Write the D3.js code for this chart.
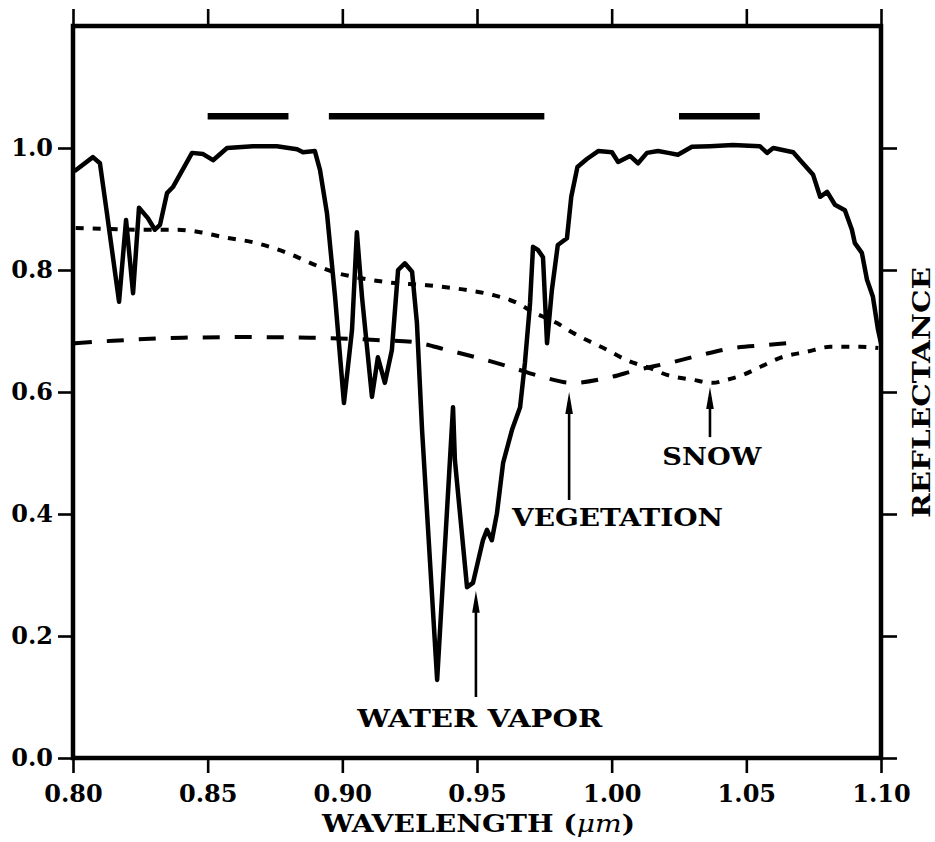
<!DOCTYPE html>
<html>
<head>
<meta charset="utf-8">
<script src="https://cdn.jsdelivr.net/npm/d3@7"></script>
<style>
  html, body { margin: 0; padding: 0; background: #fff; }
  svg { display: block; }
  text { font-family: "DejaVu Serif", "Liberation Serif", serif; font-weight: bold; fill: #000; }
</style>
</head>
<body>
<svg id="chart" width="935" height="842"></svg>
<script>
// Axis ticks
const wavelengthTicks = [0.80, 0.85, 0.90, 0.95, 1.00, 1.05, 1.10];
const reflectanceTicks = [0.0, 0.2, 0.4, 0.6, 0.8, 1.0];

// Atmospheric transmission with water vapor absorption: [wavelength (um), reflectance]
const waterVapor = [
  [0.8005, 0.962], [0.8074, 0.985], [0.8100, 0.975], [0.8126, 0.893], [0.8171, 0.748],
  [0.8197, 0.882], [0.8223, 0.762], [0.8245, 0.902], [0.8278, 0.885], [0.8304, 0.866],
  [0.8323, 0.874], [0.8349, 0.926], [0.8371, 0.936], [0.8442, 0.992], [0.8483, 0.990],
  [0.8520, 0.980], [0.8572, 1.000], [0.8668, 1.003], [0.8757, 1.003], [0.8832, 0.998],
  [0.8854, 0.993], [0.8898, 0.995], [0.8917, 0.964], [0.8943, 0.893], [0.8973, 0.756],
  [0.9006, 0.582], [0.9036, 0.702], [0.9054, 0.862], [0.9073, 0.756], [0.9110, 0.592],
  [0.9132, 0.657], [0.9158, 0.615], [0.9184, 0.669], [0.9207, 0.800], [0.9232, 0.811],
  [0.9259, 0.797], [0.9277, 0.713], [0.9296, 0.538], [0.9352, 0.128], [0.9411, 0.575],
  [0.9418, 0.488], [0.9463, 0.280], [0.9485, 0.287], [0.9522, 0.357], [0.9537, 0.374],
  [0.9555, 0.357], [0.9574, 0.401], [0.9597, 0.484], [0.9630, 0.538], [0.9660, 0.575],
  [0.9678, 0.648], [0.9697, 0.746], [0.9708, 0.838], [0.9726, 0.833], [0.9745, 0.821],
  [0.9760, 0.680], [0.9778, 0.767], [0.9800, 0.841], [0.9834, 0.852], [0.9850, 0.920],
  [0.9873, 0.969], [0.9908, 0.982], [0.9950, 0.995], [1.0001, 0.993], [1.0024, 0.977],
  [1.0068, 0.987], [1.0098, 0.975], [1.0131, 0.992], [1.0172, 0.995], [1.0210, 0.992],
  [1.0246, 0.989], [1.0298, 1.002], [1.0365, 1.003], [1.0450, 1.005], [1.0550, 1.003],
  [1.0577, 0.992], [1.0600, 1.000], [1.0674, 0.993], [1.0700, 0.980], [1.0748, 0.956],
  [1.0774, 0.920], [1.0800, 0.928], [1.0829, 0.907], [1.0866, 0.898], [1.0892, 0.866],
  [1.0903, 0.844], [1.0929, 0.828], [1.0948, 0.784], [1.0970, 0.756], [1.0989, 0.702],
  [1.1000, 0.680]
];

// Vegetation reflectance (long dashes)
const vegetation = [
  [0.8007, 0.680], [0.8149, 0.684], [0.8408, 0.689], [0.8646, 0.690], [0.8880, 0.689],
  [0.9140, 0.685], [0.9262, 0.682], [0.9389, 0.669], [0.9504, 0.656], [0.9623, 0.641],
  [0.9741, 0.625], [0.9856, 0.615], [0.9983, 0.623], [1.0094, 0.636], [1.0217, 0.648],
  [1.0335, 0.661], [1.0450, 0.672], [1.0577, 0.677], [1.0700, 0.682]
];

// Snow reflectance (short dashes)
const snow = [
  [0.8010, 0.869], [0.8286, 0.866], [0.8386, 0.866], [0.8472, 0.862], [0.8557, 0.854],
  [0.8683, 0.844], [0.8795, 0.828], [0.8917, 0.805], [0.8980, 0.795], [0.9040, 0.789],
  [0.9166, 0.780], [0.9314, 0.775], [0.9463, 0.767], [0.9559, 0.759], [0.9649, 0.746],
  [0.9708, 0.731], [0.9797, 0.713], [0.9856, 0.697], [0.9983, 0.669], [1.0057, 0.652],
  [1.0142, 0.639], [1.0205, 0.628], [1.0302, 0.620], [1.0376, 0.615], [1.0428, 0.620],
  [1.0488, 0.628], [1.0551, 0.641], [1.0625, 0.656], [1.0725, 0.666], [1.0811, 0.674],
  [1.0922, 0.674], [1.0990, 0.672]
];

// Channel bands: [start, end] in um, drawn at a fixed reflectance level
const bands = [[0.850, 0.880], [0.895, 0.975], [1.025, 1.055]];
const bandLevel = 1.052;

// Annotations: label text, label anchor (um, reflectance), arrow (um, tip, tail)
const labels = [
  { text: "WATER VAPOR", w: 0.9510, r: 0.051, width: 245, arrow: [0.9496, 0.274, 0.100] },
  { text: "VEGETATION",  w: 0.9850, r: 0.380, width: 211, arrow: [0.9842, 0.600, 0.423], anchorW: 1.0022 },
  { text: "SNOW",        w: 1.0372, r: 0.480, width: 99,  arrow: [1.0365, 0.608, 0.526] }
];

const svg = d3.select("#chart");
const L = 73, R = 881, T = 26, B = 758;

const x = d3.scaleLinear().domain([0.80, 1.10]).range([L, R]);
const y = d3.scaleLinear().domain([0, 1.2]).range([B, T]);

// Axes
const fmtX = d3.format(".2f"), fmtY = d3.format(".1f");
const axes = [
  svg.append("g").attr("transform", `translate(0,${B})`)
     .call(d3.axisBottom(x).tickValues(wavelengthTicks).tickFormat(fmtX).tickSize(15).tickPadding(12).tickSizeOuter(0)),
  svg.append("g").attr("transform", `translate(0,${T})`)
     .call(d3.axisTop(x).tickValues(wavelengthTicks).tickFormat("").tickSize(17).tickSizeOuter(0)),
  svg.append("g").attr("transform", `translate(${L},0)`)
     .call(d3.axisLeft(y).tickValues(reflectanceTicks).tickFormat(fmtY).tickSize(15).tickPadding(5).tickSizeOuter(0)),
  svg.append("g").attr("transform", `translate(${R},0)`)
     .call(d3.axisRight(y).tickValues(reflectanceTicks).tickFormat("").tickSize(16).tickSizeOuter(0))
];
axes.forEach(g => {
  g.select(".domain").remove();
  g.selectAll(".tick line").attr("stroke", "#000").attr("stroke-width", 2.6);
  g.selectAll(".tick text").attr("font-size", 24).attr("font-family", "DejaVu Serif").attr("font-weight", "bold").attr("fill", "#000");
});

// Frame
svg.append("rect")
  .attr("x", L).attr("y", T).attr("width", R - L).attr("height", B - T)
  .attr("fill", "none").attr("stroke", "#000").attr("stroke-width", 4.5);

// Curves
const line = d3.line().x(d => x(d[0])).y(d => y(d[1]));
const smooth = d3.line().x(d => x(d[0])).y(d => y(d[1])).curve(d3.curveMonotoneX);

svg.append("path").datum(vegetation).attr("d", smooth)
  .attr("fill", "none").attr("stroke", "#000").attr("stroke-width", 4)
  .attr("stroke-dasharray", "17,15");

svg.append("path").datum(snow).attr("d", smooth)
  .attr("fill", "none").attr("stroke", "#000").attr("stroke-width", 4)
  .attr("stroke-dasharray", "8,9");

svg.append("path").datum(waterVapor).attr("d", line)
  .attr("fill", "none").attr("stroke", "#000").attr("stroke-width", 4.5)
  .attr("stroke-linejoin", "round");

// Channel bands
svg.selectAll("line.band").data(bands).enter().append("line")
  .attr("class", "band")
  .attr("x1", d => x(d[0])).attr("x2", d => x(d[1]))
  .attr("y1", y(bandLevel)).attr("y2", y(bandLevel))
  .attr("stroke", "#000").attr("stroke-width", 6.5);

// Annotations
labels.forEach(a => {
  const ax = x(a.arrow[0]), tip = y(a.arrow[1]), tail = y(a.arrow[2]);
  svg.append("line").attr("x1", ax).attr("x2", ax).attr("y1", tip + 10).attr("y2", tail)
    .attr("stroke", "#000").attr("stroke-width", 2.6);
  svg.append("path")
    .attr("d", `M${ax},${tip} L${ax - 3.8},${tip + 22} L${ax + 3.8},${tip + 22} Z`)
    .attr("fill", "#000");
  const cx = x(a.anchorW || a.w);
  svg.append("text").attr("x", cx).attr("y", y(a.r))
    .attr("text-anchor", "middle").attr("font-size", 25)
    .attr("textLength", a.width).attr("lengthAdjust", "spacingAndGlyphs")
    .text(a.text);
});

// Axis titles
const xTitle = svg.append("text").attr("x", 478.5).attr("y", 832)
  .attr("text-anchor", "middle").attr("font-size", 25)
  .attr("textLength", 313).attr("lengthAdjust", "spacingAndGlyphs");
xTitle.append("tspan").text("WAVELENGTH (");
xTitle.append("tspan").attr("font-style", "italic").attr("font-weight", "normal").text("μm");
xTitle.append("tspan").text(")");

svg.append("text")
  .attr("transform", "translate(930,392.5) rotate(-90)")
  .attr("text-anchor", "middle").attr("font-size", 25)
  .attr("textLength", 251).attr("lengthAdjust", "spacingAndGlyphs")
  .text("REFLECTANCE");
</script>
</body>
</html>
